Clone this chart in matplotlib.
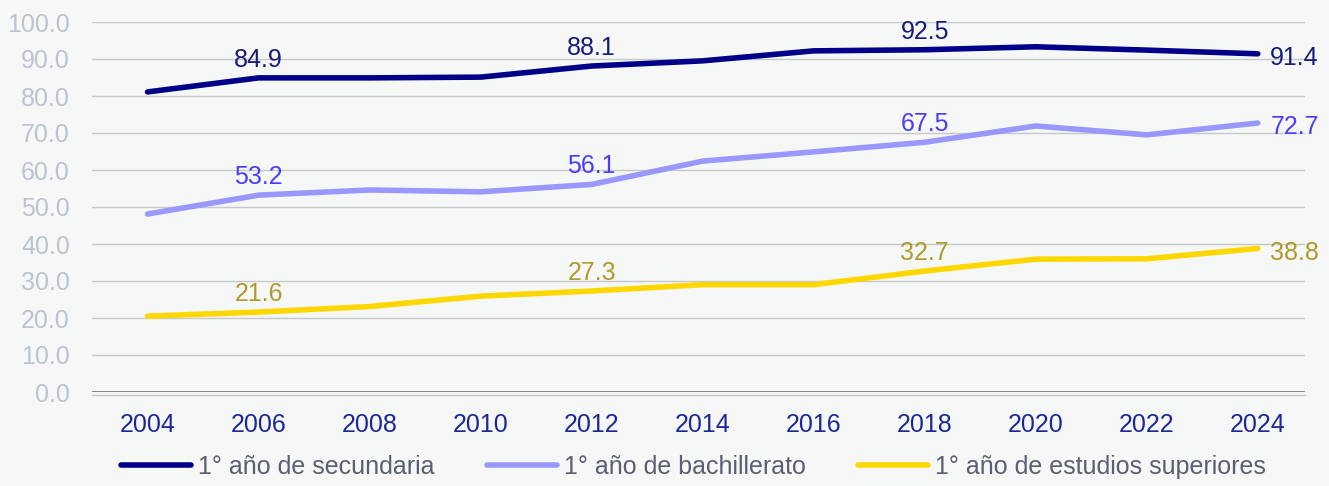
import matplotlib
matplotlib.use("Agg")
import matplotlib.pyplot as plt

years = [2004, 2006, 2008, 2010, 2012, 2014, 2016, 2018, 2020, 2022, 2024]
secundaria = [81.1, 84.9, 84.9, 85.1, 88.1, 89.5, 92.2, 92.5, 93.3, 92.4, 91.4]
bachillerato = [48.1, 53.2, 54.6, 54.1, 56.1, 62.4, 64.9, 67.5, 71.9, 69.5, 72.7]
superiores = [20.5, 21.6, 23.1, 25.9, 27.3, 29.0, 29.0, 32.7, 35.9, 36.0, 38.8]
names = ["1° año de secundaria", "1° año de bachillerato", "1° año de estudios superiores"]
label_years = [2006, 2012, 2018]

BG = "#f6f8f8"
FS = 18
series = [
    (secundaria, "#000088", "#1a1a7a"),
    (bachillerato, "#9a98ff", "#4a3cff"),
    (superiores, "#ffd700", "#b09a2a"),
]

plt.rcParams["font.family"] = ["Liberation Sans", "DejaVu Sans"]
fig = plt.figure(figsize=(13.29, 4.86), dpi=100, facecolor=BG)
ax = fig.add_axes([92 / 1329, 1 - 392 / 486, (1305 - 92) / 1329, 370 / 486])
ax.set_facecolor(BG)

for (vals, color, tcolor), name in zip(series, names):
    ax.plot(years, vals, color=color, lw=4, solid_capstyle="round",
            solid_joinstyle="round", label=name, zorder=3)
    for y, v in zip(years, vals):
        if y in label_years:
            ax.annotate(f"{v:.1f}", (y, v), xytext=(0, 13), textcoords="offset points",
                        ha="center", va="center", fontsize=FS, color=tcolor)
    ax.annotate(f"{vals[-1]:.1f}", (years[-1], vals[-1]), xytext=(9, -3),
                textcoords="offset points", ha="left", va="center",
                fontsize=FS, color=tcolor)

ax.set_xlim(2003.0, 2024.85)
ax.set_ylim(0, 100)
ax.set_yticks(range(0, 101, 10))
ax.set_yticklabels([f"{t:.1f}" for t in range(0, 101, 10)])
ax.set_xticks(years)
ax.grid(axis="y", color="#c8c8c8", lw=1)
ax.axhline(0, color="#7a7a7a", lw=2, zorder=2)
ax.axhline(-0.8, color="#c8c8c8", lw=1, zorder=2, clip_on=False)
for s in ax.spines.values():
    s.set_visible(False)
ax.tick_params(axis="both", length=0)
ax.tick_params(axis="y", labelsize=FS, labelcolor="#bcc4cc", pad=16)
ax.tick_params(axis="x", labelsize=FS, labelcolor="#1c2899", pad=15)

fig.legend(loc="center", bbox_to_anchor=(0.5218, 1 - 467 / 486), ncol=3, frameon=False,
           fontsize=FS, handlelength=2.8, handletextpad=0.28, columnspacing=2.1,
           labelcolor="#5a6070")

fig.savefig("out.png", dpi=100, facecolor=BG)
